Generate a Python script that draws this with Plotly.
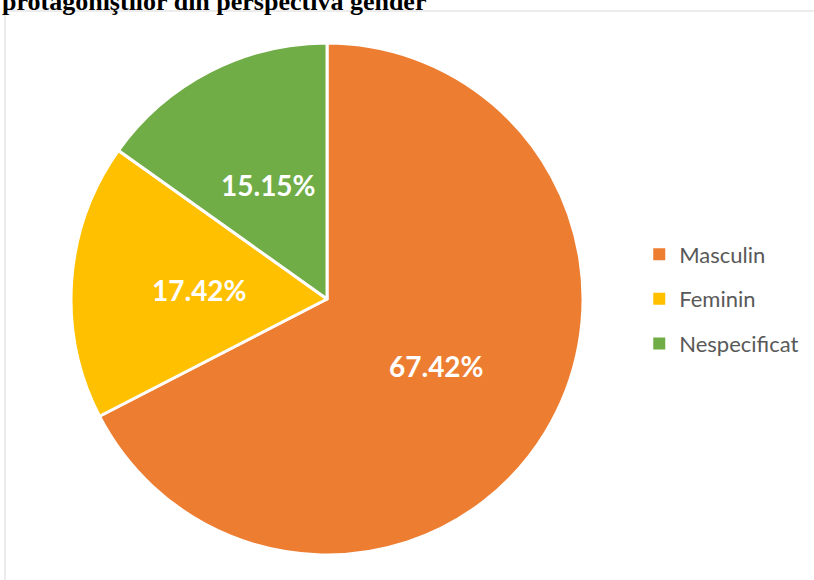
import math
import plotly.graph_objects as go

labels = ["Masculin", "Feminin", "Nespecificat"]
counts = [89, 23, 20]
colors = ["#ED7D31", "#FFC000", "#70AD47"]
title_text = "protagoniştilor din perspectiva gender"

W, H = 814, 580
ML, MT = 5, 11
plot_w, plot_h = W - ML, H - MT
dom_x = [0.0816, 0.7145]
dom_y = [0.0440, 0.9438]

fig = go.Figure()
fig.add_trace(go.Pie(
    labels=labels, values=counts, sort=False, direction="clockwise", rotation=0,
    marker=dict(colors=colors, line=dict(color="white", width=3)),
    textinfo="none", showlegend=False, hoverinfo="label+percent",
    domain=dict(x=dom_x, y=dom_y),
))
for lab, col in zip(labels, colors):
    fig.add_trace(go.Scatter(
        x=[None], y=[None], mode="markers", name=lab, legendgroup=lab,
        marker=dict(symbol="square", size=8, color=col),
    ))

# data labels placed at half radius along each slice's mid-angle (Excel style)
cx = sum(dom_x) / 2
cy = sum(dom_y) / 2
radius_px = min((dom_x[1] - dom_x[0]) * plot_w, (dom_y[1] - dom_y[0]) * plot_h) / 2
total = sum(counts)
annotations = []
cum = 0
for v in counts:
    mid = (cum + v / 2) / total * 2 * math.pi
    cum += v
    r = radius_px / 2
    annotations.append(dict(
        text="<b>%.2f%%</b>" % (v / total * 100), xref="paper", yref="paper",
        x=cx + r * math.sin(mid) / plot_w, y=cy + r * math.cos(mid) / plot_h,
        xanchor="center", yanchor="middle", showarrow=False,
        font=dict(family="Lato", size=28, color="white"),
    ))
annotations.append(dict(
    text="<b>" + title_text + "</b>", xref="paper", yref="paper",
    x=-0.0062, y=1, xanchor="left", yanchor="bottom", yshift=-7,
    showarrow=False, font=dict(family="Liberation Serif", size=26, color="black")))

fig.update_layout(
    width=W, height=H,
    margin=dict(l=ML, r=0, t=MT, b=0),
    paper_bgcolor="white", plot_bgcolor="white",
    xaxis=dict(visible=False), yaxis=dict(visible=False),
    showlegend=True,
    legend=dict(x=0.784, y=0.494, xanchor="left", yanchor="middle",
                font=dict(family="Lato", size=22, color="#595959"),
                tracegroupgap=13, itemsizing="constant"),
    shapes=[dict(type="rect", xref="paper", yref="paper", x0=0, x1=1.05, y0=-0.05, y1=1,
                 line=dict(color="#D9D9D9", width=1), fillcolor="rgba(0,0,0,0)")],
    annotations=annotations,
)
fig.write_html("out.html", config={"displayModeBar": False},
               post_script="document.body.style.margin='0';")
